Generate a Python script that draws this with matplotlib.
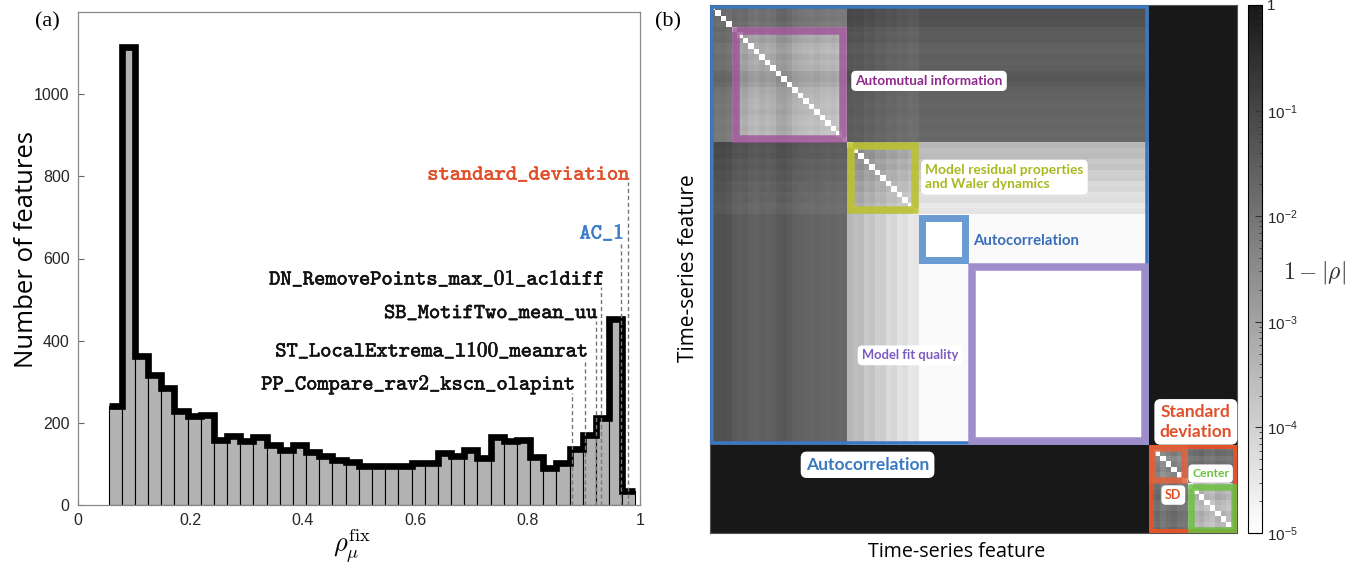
import numpy as np
import matplotlib.pyplot as plt
import matplotlib.patheffects as pe
from matplotlib.colors import LogNorm, LinearSegmentedColormap
from matplotlib.patches import Rectangle

plt.rcParams['mathtext.fontset'] = 'cm'
plt.rcParams['font.family'] = ['Liberation Sans', 'DejaVu Sans']

W, H = 1348, 565

# ---- panel (a): distribution of rho_mu^fix over all features ----
bin_start = 0.0543
bin_width = 0.02344
feature_counts = [240, 1115, 363, 317, 286, 228, 216, 218, 158, 168,
                  155, 165, 146, 133, 146, 129, 120, 109, 104, 96,
                  94, 96, 94, 102, 102, 126, 120, 135, 114, 166,
                  155, 159, 116, 89, 102, 137, 170, 212, 453, 35]

marked_names = ["PP_Compare_rav2_kscn_olapint", "ST_LocalExtrema_l100_meanrat",
                "SB_MotifTwo_mean_uu", "DN_RemovePoints_max_01_ac1diff",
                "AC_1", "standard_deviation"]
marked_rho = [0.8798, 0.9029, 0.9219, 0.9314, 0.9667, 0.9789]
marked_top = [273, 356, 448, 531, 643, 785]
marked_colors = ["#111111", "#111111", "#111111", "#111111", "#3d7cc9", "#e2502a"]

# ---- panel (b): block structure of the feature-feature matrix ----
group_names = ["lead", "Automutual information", "Model residual",
               "Autocorrelation", "Model fit quality", "SD", "Center"]
group_sizes = [4, 21, 13, 9, 33, 7, 9]
# log10(1 - |rho|) between groups
group_levels = np.array([
    [-2.2, -2.0, -1.35, -1.35, -1.35, -0.03, -0.03],
    [-2.0, -2.9, -1.5, -1.5, -1.5, -0.03, -0.03],
    [-1.35, -1.5, -3.2, -4.0, -4.0, -0.03, -0.03],
    [-1.35, -1.5, -4.0, -5.0, -4.9, -0.03, -0.03],
    [-1.35, -1.5, -4.0, -4.9, -5.0, -0.03, -0.03],
    [-0.03, -0.03, -0.03, -0.03, -0.03, -2.4, -1.9],
    [-0.03, -0.03, -0.03, -0.03, -0.03, -1.9, -3.4],
])
# relative shading of single features (stripes)
feature_offsets = [
    [-0.12, -0.08, -0.1, -0.05],
    [-0.04, 0.0, -0.03, 0.05, 0.08, 0.02, 0.06, 0.03, -0.06, -0.08, -0.03,
     0.05, 0.08, 0.1, 0.12, 0.09, 0.13, 0.15, 0.12, 0.16, 0.14],
    [-0.14, -0.1, -0.12, -0.04, -0.07, 0.0, -0.02, 0.05, 0.03, 0.09, 0.07, 0.13, 0.11],
    [0.0, 0.0, 0.0, 0.0, 0.0, 0.0, 0.0, 0.0, 0.0],
    [0.0] * 33,
    [0.05, -0.05, 0.08, 0.0, -0.06, 0.03, 0.06],
    [0.06, 0.0, -0.05, 0.03, 0.07, -0.03, 0.0, 0.05, -0.04],
]


def build_matrix():
    labels = np.repeat(np.arange(len(group_sizes)), group_sizes)
    offs = np.concatenate(feature_offsets)
    mat = group_levels[labels][:, labels] * (1 + offs[:, None] + offs[None, :])
    np.fill_diagonal(mat, -5)
    return 10 ** np.clip(mat, -5, 0)


def plot_histogram(ax):
    edges = bin_start + bin_width * np.arange(len(feature_counts) + 1)
    ax.bar(edges[:-1], feature_counts, width=bin_width, align="edge",
           color="#b3b3b3", edgecolor="black", linewidth=0.8, zorder=2)
    ax.stairs(feature_counts, edges, baseline=None, color="black",
              linewidth=4.8, zorder=3)
    for name, rho, top, col in zip(marked_names, marked_rho, marked_top, marked_colors):
        ax.plot([rho, rho], [0, top], color="#777777", lw=1.0,
                dashes=(3, 2), zorder=4)
        tt = r"$\mathtt{" + name.replace("_", r"\_") + "}$"
        ax.text(rho + 0.005, top + 20, tt, ha="right", va="center",
                color=col, fontsize=15.4,
                path_effects=[pe.withStroke(linewidth=0.4, foreground=col)])
    ax.set_xlim(0, 1)
    ax.set_ylim(0, 1200)
    ax.set_xticks([0, 0.2, 0.4, 0.6, 0.8, 1])
    ax.set_xticklabels(["0", "0.2", "0.4", "0.6", "0.8", "1"])
    ax.set_yticks(range(0, 1001, 200))
    ax.tick_params(direction="in", length=4, color="#666666",
                   labelsize=11.5, labelcolor="#262626", pad=6)
    for sp in ax.spines.values():
        sp.set_color("#888888")
        sp.set_linewidth(0.9)


def group_box(ax, first, last, color, lw_px, alpha=1.0, cell_px=1.0):
    edges = np.concatenate([[0], np.cumsum(group_sizes)])
    lo, hi = edges[first], edges[last + 1]
    inset = lw_px / 2 / cell_px
    ax.add_patch(Rectangle((lo + inset, lo + inset), hi - lo - 2 * inset,
                           hi - lo - 2 * inset, fill=False, edgecolor=color,
                           linewidth=lw_px * 0.72, alpha=alpha, zorder=3))


def label(ax, x, y, text, color, size, ha="center"):
    ax.text(x, y, text, ha=ha, va="center", color=color, fontsize=size,
            family="Lato", fontweight="bold", zorder=5, linespacing=1.25,
            bbox=dict(boxstyle="round,pad=0.3,rounding_size=0.35",
                      fc="white", ec="none"))


def plot_matrix(ax, cax):
    mat = build_matrix()
    n = mat.shape[0]
    cmap = LinearSegmentedColormap.from_list("grey_r", ["#ffffff", "#181818"])
    im = ax.imshow(mat, cmap=cmap, norm=LogNorm(1e-5, 1), extent=(0, n, n, 0),
                   aspect="auto", interpolation="nearest")
    ax.set_xticks([])
    ax.set_yticks([])
    for sp in ax.spines.values():
        sp.set_color("#555555")
        sp.set_linewidth(0.8)
    cell = 527 / n
    group_box(ax, 0, 4, "#3b78c0", 3.5, cell_px=cell)
    group_box(ax, 1, 1, "#a0529a", 7.5, alpha=0.8, cell_px=cell)
    group_box(ax, 2, 2, "#bcc232", 7.5, alpha=0.9, cell_px=cell)
    group_box(ax, 3, 3, "#6a9bd2", 7.0, cell_px=cell)
    group_box(ax, 4, 4, "#9e8dcb", 7.5, cell_px=cell)
    group_box(ax, 5, 6, "#e0532b", 4.0, cell_px=cell)
    group_box(ax, 5, 5, "#e0603a", 6.5, alpha=0.85, cell_px=cell)
    group_box(ax, 6, 6, "#6cc040", 6.5, alpha=0.85, cell_px=cell)

    label(ax, 39.9, 13.8, "Automutual information", "#8e2a8a", 9.8)
    label(ax, 39.2, 31.3, "Model residual properties\nand Waler dynamics",
          "#a8b820", 9.9, ha="left")
    ax.text(47.9, 42.9, "Autocorrelation", ha="left", va="center",
            color="#3a6eb8", fontsize=10.8, family="Lato", fontweight="bold")
    label(ax, 36.4, 63.7, "Model fit quality", "#7b5cc0", 9.4)
    label(ax, 28.7, 83.6, "Autocorrelation", "#3a78c0", 12.5)
    label(ax, 88.5, 75.8, "Standard\ndeviation", "#e0502a", 12.5)
    label(ax, 91.2, 85.2, "Center", "#6cc040", 8.8)
    label(ax, 84.4, 89.1, "SD", "#e0502a", 9)

    cb = plt.colorbar(im, cax=cax)
    cb.set_ticks([1e-5, 1e-4, 1e-3, 1e-2, 1e-1, 1])
    cb.set_ticklabels([r"10$^{\mathdefault{-5}}$", r"10$^{\mathdefault{-4}}$",
                       r"10$^{\mathdefault{-3}}$", r"10$^{\mathdefault{-2}}$",
                       r"10$^{\mathdefault{-1}}$", "1"])
    cax.tick_params(which="both", direction="in", color="#333333",
                    labelsize=11, labelcolor="#262626")
    cax.tick_params(which="major", length=5)
    cax.tick_params(which="minor", length=2.5)
    cb.outline.set_linewidth(0.8)


fig = plt.figure(figsize=(W / 100, H / 100), dpi=100)
ax_a = fig.add_axes([78 / W, 1 - 505 / H, (640 - 78) / W, (505 - 12) / H])
ax_b = fig.add_axes([710 / W, 1 - 533 / H, 527 / W, 528 / H])
cax = fig.add_axes([1248 / W, 1 - 533 / H, 14 / W, 528 / H])

plot_histogram(ax_a)
plot_matrix(ax_b, cax)

fig.text(27 / W, 1 - 250 / H, "Number of features", rotation=90, ha="center",
         va="center", family="Open Sans", fontsize=18.5)
fig.text(352 / W, 1 - 546 / H, r"$\rho_\mu^{\rm fix}$", ha="center",
         va="center", fontsize=19)
fig.text(47 / W, 1 - 22 / H, "(a)", ha="center", va="center",
         family="Liberation Serif", fontsize=16)
fig.text(668 / W, 1 - 22 / H, "(b)", ha="center", va="center",
         family="Liberation Serif", fontsize=16)
fig.text(688 / W, 1 - 268 / H, "Time-series feature", rotation=90,
         ha="center", va="center", family="Open Sans", fontsize=15)
fig.text(957 / W, 1 - 552 / H, "Time-series feature", ha="center",
         va="center", family="Open Sans", fontsize=14.2)
fig.text(1314 / W, 1 - 272 / H, r"$1-|\rho|$", ha="center", va="center",
         fontsize=17, color="#333333")

fig.savefig("out.png", dpi=100)
